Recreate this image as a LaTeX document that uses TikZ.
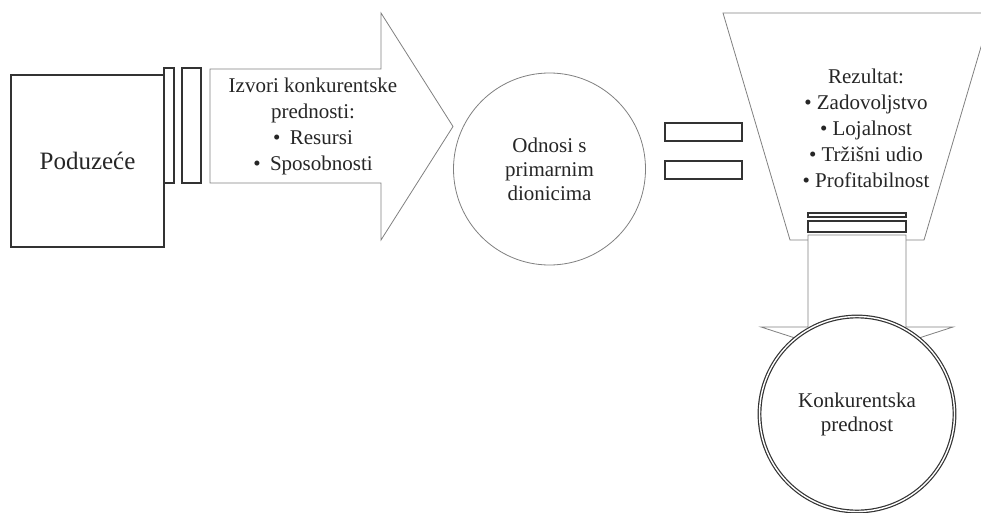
\documentclass[tikz,border=0pt]{standalone}
\usepackage{fontspec}
\setmainfont{Liberation Serif}
\usetikzlibrary{positioning}

\begin{document}
\begin{tikzpicture}[
    x=1pt, y=-1pt,
    txt/.style={align=center, text=black!85, font=\fontsize{21}{26}\selectfont},
    darkbox/.style={draw=black!80, line width=1.3pt, fill=white},
    grayline/.style={draw=black!50, line width=0.8pt, fill=white},
    ring/.style={circle, inner sep=0pt, minimum size=#1}
]
\useasboundingbox (0,0) rectangle (981,513);
\clip (0,0) rectangle (981,513);

% Nodes
\node (poduzece) [darkbox, txt, minimum width=153, minimum height=172, font=\fontsize{25}{30}\selectfont] at (87.5,161) {Poduzeće};
\node (barA) [darkbox, minimum width=10, minimum height=115, inner sep=0pt] at (169,125.5) {};
\node (barB) [darkbox, minimum width=19, minimum height=115, inner sep=0pt] at (191.5,125.5) {};

% Big arrow with sources
\coordinate (tip) at (453,126.5);
\draw [grayline] (210,69) -- (381,69) -- (381,13) -- (tip) -- (381,240) -- (381,183) -- (210,183) -- cycle;
\node (izvori) [txt] at (313,126) {Izvori konkurentske\\prednosti:\\•\hspace{0.45em}Resursi\\•\hspace{0.45em}Sposobnosti};

\node (odnosi) [grayline, ring=192, txt, font=\fontsize{21}{24}\selectfont] at (549.5,169) {Odnosi s\\primarnim\\dionicima};

\node (eqA) [darkbox, minimum width=77, minimum height=18, inner sep=0pt] at (703.5,132) {};
\node (eqB) [darkbox, minimum width=77, minimum height=18, inner sep=0pt] at (703.5,170) {};

% Funnel
\draw [grayline] (723,13) -- (991,13) -- (924,240) -- (790,240) -- cycle;
\node (rezultat) [txt] at (866,128) {Rezultat:\\•\hspace{0.25em}Zadovoljstvo\\•\hspace{0.25em}Lojalnost\\•\hspace{0.25em}Tržišni udio\\•\hspace{0.25em}Profitabilnost};

% Down arrow
\coordinate (downtip) at (857,358);
\draw [grayline] (808,235) -- (906,235) -- (906,327) -- (953,327) -- (downtip) -- (761,327) -- (808,327) -- cycle;
\node (capA) [darkbox, minimum width=98, minimum height=4, inner sep=0pt] at (857,215) {};
\node (capB) [darkbox, minimum width=98, minimum height=11, inner sep=0pt] at (857,226.5) {};

\node (prednost) [ring=195, txt, font=\fontsize{21}{24}\selectfont, fill=white, draw=black!80, line width=1.2pt, double=white, double distance=1.4pt] at (857,414) {Konkurentska\\prednost};

\end{tikzpicture}
\end{document}
